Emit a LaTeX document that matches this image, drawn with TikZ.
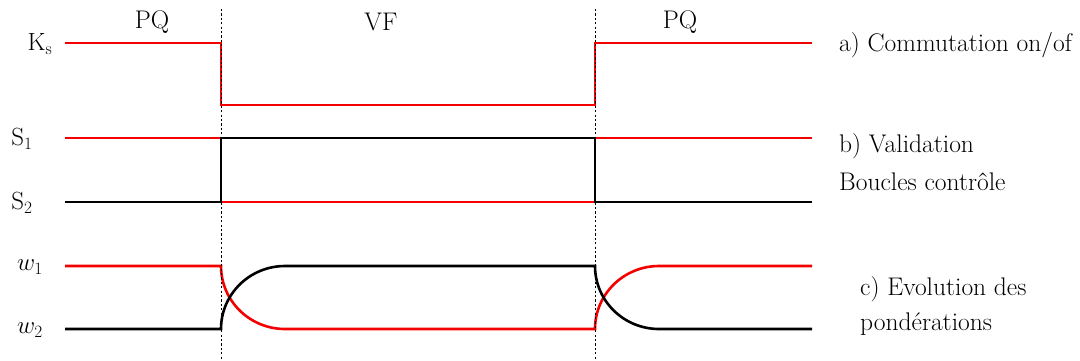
\documentclass[tikz,border=0pt]{standalone}
\usepackage{amsmath}
\begin{document}
\begin{tikzpicture}[x=1pt,y=-1pt,
  sig/.style={line width=2.6pt,line cap=butt,line join=miter},
  redsig/.style={sig,draw={rgb,255:red,245;green,0;blue,0}},
  blksig/.style={sig,draw=black},
  sep/.style={draw=black,line width=0.9pt,dash pattern=on 2.2pt off 2.2pt},
  lbl/.style={font=\fontsize{25.5}{30}\selectfont,inner sep=0pt},
  rlbl/.style={lbl,anchor=west}]
\useasboundingbox (0,0) rectangle (1080,360);
% a) Ks
\draw[redsig] (65,43) -- (221,43) -- (221,105) -- (595,105) -- (595,43) -- (812,43);
% b) S1 / S2
\draw[redsig] (65,138) -- (221,138);
\draw[redsig] (221,202) -- (595,202);
\draw[redsig] (595,138) -- (812,138);
\draw[blksig] (65,202) -- (221,202) -- (221,138) -- (595,138) -- (595,202) -- (812,202);
% c) w1 / w2
\draw[redsig] (65,266) -- (221,266)
  .. controls (221,300.8) and (249.7,329) .. (285,329) -- (595,329)
  .. controls (595,294.2) and (623.7,266) .. (659,266) -- (812,266);
\draw[blksig] (65,329) -- (221,329)
  .. controls (221,294.2) and (249.7,266) .. (285,266) -- (595,266)
  .. controls (595,300.8) and (623.7,329) .. (659,329) -- (812,329);
% separators
\draw[sep] (221,9) -- (221,360);
\draw[sep] (595,9) -- (595,360);
% phase labels
\node[lbl] (pq1) at (152,22) {PQ};
\node[lbl] (vf) at (381,22) {VF};
\node[lbl] (pq2) at (680,22) {PQ};
% signal labels
\node[lbl] (ks) at (40,44) {$\mathrm{K_s}$};
\node[lbl] (s1) at (22,139) {$\mathrm{S_1}$};
\node[lbl] (s2) at (22,203) {$\mathrm{S_2}$};
\node[lbl] (w1) at (30,267) {$w_1$};
\node[lbl] (w2) at (30,330) {$w_2$};
% right descriptions
\node[rlbl] (ta) at (839,45) {a) Commutation on/of};
\node[rlbl] (tb1) at (839,146) {b) Validation};
\node[rlbl] (tb2) at (839,182) {Boucles contrôle};
\node[rlbl] (tc1) at (860,289) {c) Evolution des};
\node[rlbl] (tc2) at (860,324) {pondérations};
\end{tikzpicture}
\end{document}
